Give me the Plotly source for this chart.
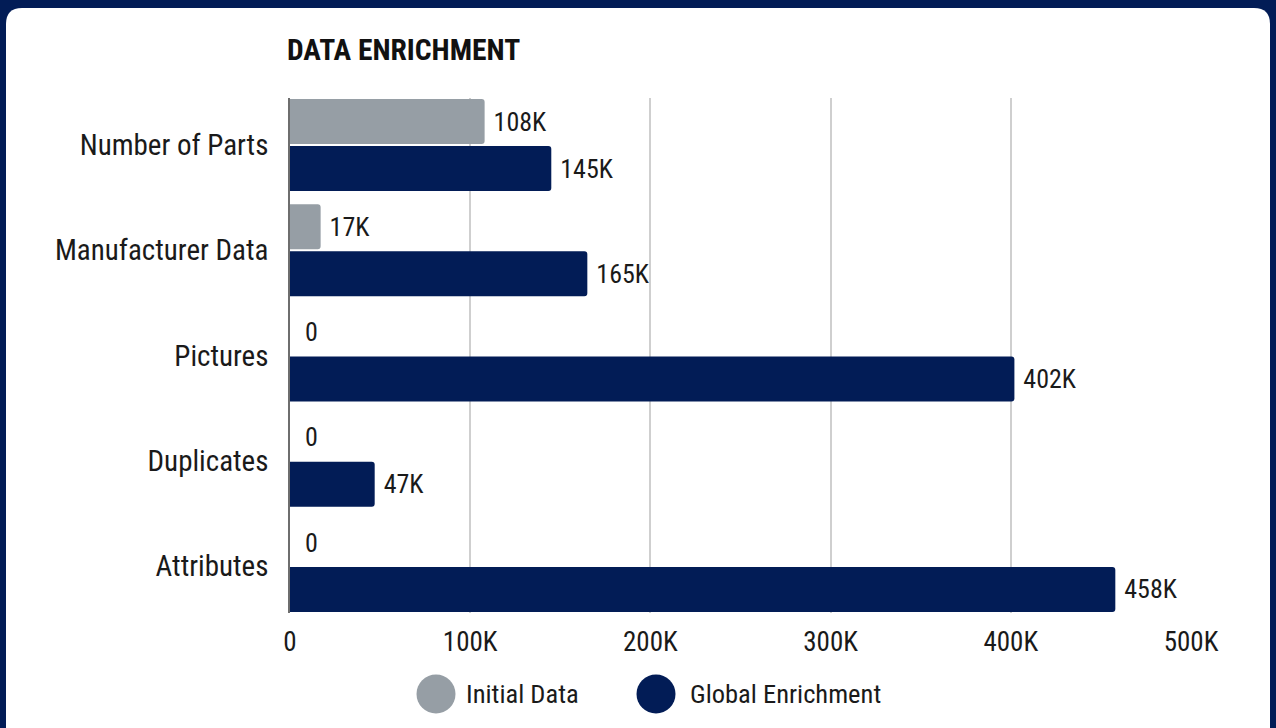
import plotly.graph_objects as go

categories = ["Number of Parts", "Manufacturer Data", "Pictures", "Duplicates", "Attributes"]
initial_data = [108000, 17000, 0, 0, 0]
global_enrichment = [145000, 165000, 402000, 47000, 458000]
tick_vals = [0, 100000, 200000, 300000, 400000, 500000]
tick_text = ["0", "100K", "200K", "300K", "400K", "500K"]
series_names = ["Initial Data", "Global Enrichment"]

GRAY = "#969ea5"
NAVY = "#021c56"
FONT = "Roboto Condensed, Liberation Sans Narrow, DejaVu Sans Condensed, Roboto, sans-serif"

W, H = 1276, 728
L, R, T, B = 290, 85, 98, 115
PW, PH = W - L - R, H - T - B


def px(x):
    return (x - L) / PW


def py(y):
    return (H - B - y) / PH


NB = "\u00a0"


def klabel(v):
    return NB * 2 + "0" if v == 0 else NB + f"{round(v / 1000)}K"


fig = go.Figure()
for name, vals, col in [(series_names[0], initial_data, GRAY), (series_names[1], global_enrichment, NAVY)]:
    fig.add_trace(go.Bar(
        y=categories, x=vals, name=name, orientation="h",
        marker=dict(color=col, cornerradius=3, line=dict(width=0)),
        text=[klabel(v) for v in vals], textposition="outside",
        textfont=dict(family=FONT, size=26, color="#1a1a1a"),
        cliponaxis=False, showlegend=False,
    ))

# card background with rounded top corners
x0, x1, y0, y1, r = 6, 1270, 8, 760, 16
path = (f"M {px(x0)},{py(y1)} L {px(x0)},{py(y0 + r)} Q {px(x0)},{py(y0)} {px(x0 + r)},{py(y0)} "
        f"L {px(x1 - r)},{py(y0)} Q {px(x1)},{py(y0)} {px(x1)},{py(y0 + r)} L {px(x1)},{py(y1)} Z")
shapes = [dict(type="path", xref="paper", yref="paper", path=path,
               fillcolor="white", line=dict(width=0), layer="below")]

# legend circles + labels
annotations = []
for cx, col, tx, name in [(436, GRAY, 464, series_names[0]), (656, NAVY, 688, series_names[1])]:
    rad = 19.5
    shapes.append(dict(type="circle", xref="paper", yref="paper",
                       x0=px(cx - rad), x1=px(cx + rad), y0=py(694 + rad), y1=py(694 - rad),
                       fillcolor=col, line=dict(width=0)))
    annotations.append(dict(xref="paper", yref="paper", x=px(tx), y=py(693), text=name,
                            showarrow=False, xanchor="left", yanchor="middle",
                            font=dict(family=FONT, size=26.5, color="#1a1a1a")))

fig.update_layout(
    width=W, height=H,
    margin=dict(l=L, r=R, t=T, b=B),
    paper_bgcolor=NAVY, plot_bgcolor="rgba(0,0,0,0)",
    barmode="group", bargap=0.107, bargroupgap=0.04,
    title=dict(text="<b>DATA ENRICHMENT</b>", x=287 / W, xanchor="left", xref="container",
               y=1 - 50 / H, yanchor="middle", yref="container",
               font=dict(family=FONT, size=29.5, color="#111111")),
    shapes=shapes, annotations=annotations,
    showlegend=False,
    xaxis=dict(range=[0, 500000], tickvals=tick_vals, ticktext=tick_text,
               showgrid=True, gridcolor="#cfcfcf", gridwidth=1.5, zeroline=False,
               ticks="", ticklabelstandoff=10,
               tickfont=dict(family=FONT, size=27, color="#1a1a1a")),
    yaxis=dict(range=[4.4466, -0.4466], showgrid=False, showline=True,
               linecolor="#6e6e6e", linewidth=1.5, ticks="", ticklabelstandoff=14,
               tickfont=dict(family=FONT, size=29, color="#1a1a1a")),
)

fig.write_html(
    "out.html",
    config={"displayModeBar": False},
    post_script="document.body.style.margin='0';document.body.style.background='#021c56';",
)
